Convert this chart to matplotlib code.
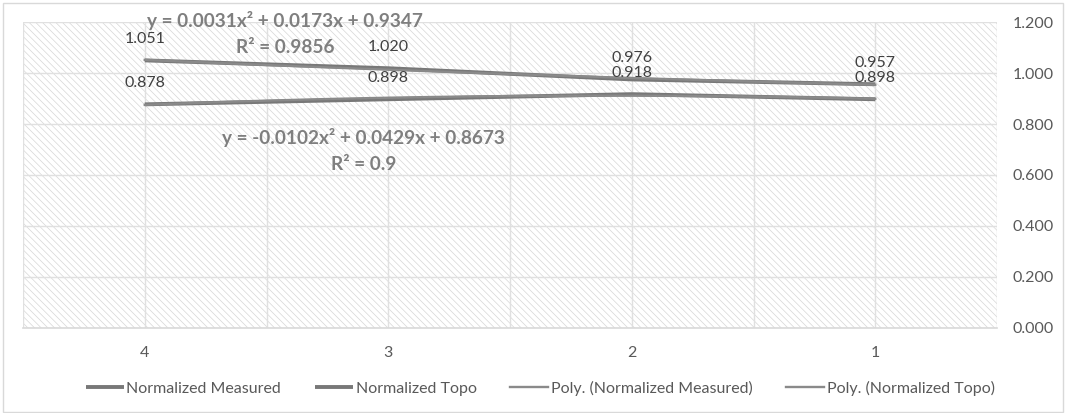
import numpy as np
import matplotlib
matplotlib.use("Agg")
import matplotlib.pyplot as plt
from matplotlib.patches import Rectangle

# data (category axis is reversed: 4 on the left)
categories = [1, 2, 3, 4]
cat_labels = ["1", "2", "3", "4"]
measured = [0.957, 0.976, 1.020, 1.051]
topo = [0.898, 0.918, 0.898, 0.878]
eq_measured = ["y = 0.0031x² + 0.0173x + 0.9347", "R² = 0.9856"]
eq_topo = ["y = -0.0102x² + 0.0429x + 0.8673", "R² = 0.9"]
y_ticks = [0.0, 0.2, 0.4, 0.6, 0.8, 1.0, 1.2]

plt.rcParams['font.family'] = ['Lato', 'DejaVu Sans']
plt.rcParams['hatch.linewidth'] = 0.5

fig = plt.figure(figsize=(10.72, 4.13), dpi=100)
ax = fig.add_axes([23 / 1072, 1 - 327.5 / 413, 974 / 1072, 305 / 413])

# outer chart border
fig.patches.append(Rectangle((3 / 1072, 0.003), 1060 / 1072, 0.99, transform=fig.transFigure,
                             fill=False, edgecolor='#d9d9d9', linewidth=1))

# hatched plot area
ax.add_patch(Rectangle((0, 0), 1, 1, transform=ax.transAxes, facecolor='white',
                       edgecolor='#d6d6d6', hatch='\\' * 5, linewidth=0, zorder=0))

x = np.array(categories, dtype=float)
xs = np.linspace(1, 4, 100)
fit_m = np.polyval(np.polyfit(x, measured, 2), xs)
fit_t = np.polyval(np.polyfit(x, topo, 2), xs)

ax.plot(x, measured, color='#787878', lw=2.8, solid_capstyle='butt', zorder=3, label='Normalized Measured')
ax.plot(x, topo, color='#787878', lw=2.8, solid_capstyle='butt', zorder=3, label='Normalized Topo')
ax.plot(xs, fit_m, color='#8a8a8a', lw=1.7, zorder=4, label='Poly. (Normalized Measured)')
ax.plot(xs, fit_t, color='#8a8a8a', lw=1.7, zorder=4, label='Poly. (Normalized Topo)')

for xi, m, t in zip(x, measured, topo):
    ax.annotate(f"{m:.3f}", (xi, m), xytext=(0, 15.5), textcoords='offset points',
                ha='center', va='center', fontsize=11.5, color='#404040', zorder=5)
    ax.annotate(f"{t:.3f}", (xi, t), xytext=(0, 15.5), textcoords='offset points',
                ha='center', va='center', fontsize=11.5, color='#404040', zorder=5)

# trendline equations, one text per line
eq_style = dict(ha='center', va='center', fontsize=13.7, fontweight='bold', color='#7f7f7f', zorder=5)
ax.text(3.424, 1.2098, eq_measured[0], **eq_style)
ax.text(3.424, 1.1036, eq_measured[1], **eq_style)
ax.text(3.10, 0.7456, eq_topo[0], **eq_style)
ax.text(3.10, 0.6394, eq_topo[1], **eq_style)

ax.set_xlim(4.5, 0.5)
ax.set_ylim(0, 1.2)
ax.set_xticks(categories)
ax.set_xticklabels(cat_labels)
ax.set_yticks(y_ticks)
ax.set_yticklabels([f"{v:.3f}" for v in y_ticks])
ax.yaxis.tick_right()
ax.tick_params(axis='both', length=0, labelsize=11.5, colors='#595959')
ax.tick_params(axis='y', pad=11)
ax.tick_params(axis='x', pad=13)

# vertical grid at category boundaries and centres
for gx in np.arange(0.5, 4.6, 0.5):
    ax.axvline(gx, color='#e0e0e0', lw=1, zorder=1)
ax.grid(True, axis='y', color='#e0e0e0', lw=1, zorder=1)
for s in ['top', 'left', 'right']:
    ax.spines[s].set_visible(False)
ax.spines['bottom'].set_color('#d9d9d9')
ax.spines['bottom'].set_linewidth(1.2)

handles, labels = ax.get_legend_handles_labels()
leg = fig.legend(handles, labels, loc='center', bbox_to_anchor=(0.504, 1 - 388 / 413), ncol=4,
                 frameon=False, fontsize=11.5, handlelength=2.4, handletextpad=0.15, columnspacing=2.1)
for t in leg.get_texts():
    t.set_color('#595959')

fig.savefig("out.png", dpi=100)
